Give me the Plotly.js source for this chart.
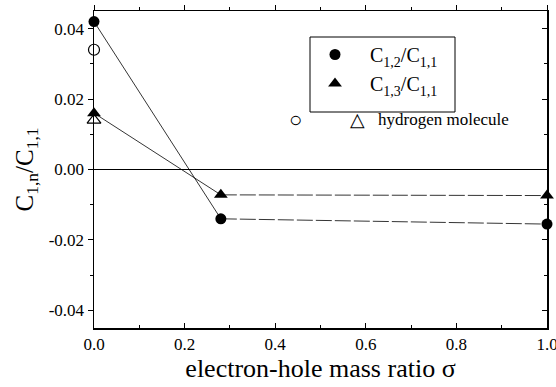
<!DOCTYPE html>
<html><head><meta charset="utf-8">
<script src="https://cdn.plot.ly/plotly-3.0.1.min.js"></script>
<style>body{margin:0;background:#fff}#c{width:556px;height:387px}</style>
</head><body><div id="c"></div>
<script>
const sigma = [0, 0.28, 1.0];
const c12 = [0.042, -0.014, -0.0155];
const c13 = [0.016, -0.0072, -0.0074];
const h2Sigma = [0];
const h2C12 = [0.034];
const h2C13 = [0.014];
const xTickVals = [0, 0.2, 0.4, 0.6, 0.8, 1.0];
const xTickText = ['0.0', '0.2', '0.4', '0.6', '0.8', '1.0'];
const yTickVals = [-0.04, -0.02, 0, 0.02, 0.04];
const yTickText = ['-0.04', '-0.02', '0.00', '0.02', '0.04'];

const lineStyle = {color: '#000', width: 0.8};
const dashStyle = {color: '#000', width: 0.8, dash: '16px,3px'};
const traces = [
  {x: sigma.slice(0, 2), y: c12.slice(0, 2), mode: 'lines', line: lineStyle, showlegend: false},
  {x: sigma.slice(1), y: c12.slice(1), mode: 'lines', line: dashStyle, showlegend: false},
  {x: sigma.slice(0, 2), y: c13.slice(0, 2), mode: 'lines', line: lineStyle, showlegend: false},
  {x: sigma.slice(1), y: c13.slice(1), mode: 'lines', line: dashStyle, showlegend: false},
  {x: sigma, y: c12, mode: 'markers', name: 'C<sub>1,2</sub>/C<sub>1,1</sub>',
   marker: {symbol: 'circle', size: 11, color: '#000'}, cliponaxis: false},
  {x: sigma, y: c13, mode: 'markers', name: 'C<sub>1,3</sub>/C<sub>1,1</sub>',
   marker: {symbol: 'triangle-up', size: 12, color: '#000'}, cliponaxis: false},
  {x: h2Sigma, y: h2C12, mode: 'markers', showlegend: false,
   marker: {symbol: 'circle-open', size: 11, color: '#000', line: {width: 1.2}}, cliponaxis: false},
  {x: h2Sigma, y: h2C13, mode: 'markers', showlegend: false,
   marker: {symbol: 'triangle-up-open', size: 12, color: '#000', line: {width: 1.2}}, cliponaxis: false}
];

const FAM = 'Liberation Serif';
const f = (s) => ({family: FAM, size: s, color: '#000'});
const layout = {
  width: 556, height: 387,
  margin: {l: 94, r: 9, t: 11, b: 59},
  paper_bgcolor: '#fff', plot_bgcolor: '#fff',
  font: f(17),
  xaxis: {
    range: [0, 1], tickvals: xTickVals, ticktext: xTickText, ticklabeloverflow: 'allow',
    ticks: 'inside', ticklen: 5, tickwidth: 1, tickcolor: '#000',
    minor: {dtick: 0.1, ticks: 'inside', ticklen: 3, tickcolor: '#000'},
    showline: true, linecolor: '#000', linewidth: 1.5, showgrid: false, zeroline: false,
    tickfont: f(17),
    title: {text: 'electron-hole mass ratio σ', font: f(26), standoff: 5}
  },
  xaxis2: {
    range: [0, 1], overlaying: 'x', side: 'top', tickvals: xTickVals, showticklabels: false,
    ticks: 'outside', ticklen: 5, tickcolor: '#000',
    minor: {dtick: 0.1, ticks: 'outside', ticklen: 3, tickcolor: '#000'},
    showline: true, linecolor: '#000', linewidth: 1.5, showgrid: false, zeroline: false
  },
  yaxis: {
    range: [-0.045, 0.045], tickvals: yTickVals, ticktext: yTickText,
    ticks: 'outside', ticklen: 5, tickwidth: 1, tickcolor: '#000',
    minor: {dtick: 0.01, ticks: 'outside', ticklen: 3, tickcolor: '#000'},
    showline: true, linecolor: '#000', linewidth: 1.5, showgrid: false,
    zeroline: true, zerolinecolor: '#000', zerolinewidth: 1,
    tickfont: f(17),
    title: {text: 'C<sub>1,n</sub>/C<sub>1,1</sub>', font: f(25), standoff: 8}
  },
  yaxis2: {
    range: [-0.045, 0.045], overlaying: 'y', side: 'right', tickvals: yTickVals, showticklabels: false,
    ticks: 'inside', ticklen: 5, tickcolor: '#000',
    minor: {dtick: 0.01, ticks: 'inside', ticklen: 3, tickcolor: '#000'},
    showline: true, linecolor: '#000', linewidth: 1.5, showgrid: false, zeroline: false
  },
  legend: {
    x: (300 - 94) / 453, y: (328 - 35) / 317, xanchor: 'left', yanchor: 'top',
    borderwidth: 0, bgcolor: 'rgba(0,0,0,0)',
    font: f(20), itemwidth: 60, tracegroupgap: 0
  },
  shapes: [{
    type: 'rect', xref: 'paper', yref: 'paper',
    x0: (310 - 94) / 453, x1: (455 - 94) / 453, y0: (328 - 112) / 317, y1: (328 - 37) / 317,
    line: {color: '#000', width: 1}, fillcolor: 'rgba(0,0,0,0)'
  }],
  annotations: [
    {xref: 'paper', yref: 'paper', x: (295 - 94) / 453, y: (328 - 120) / 317, xanchor: 'center', yanchor: 'middle',
     text: '○', showarrow: false, font: f(22)},
    {xref: 'paper', yref: 'paper', x: (357 - 94) / 453, y: (328 - 120) / 317, xanchor: 'center', yanchor: 'middle',
     text: '△', showarrow: false, font: f(19)},
    {xref: 'paper', yref: 'paper', x: (376 - 94) / 453, y: (328 - 119) / 317, xanchor: 'left', yanchor: 'middle',
     text: 'hydrogen molecule', showarrow: false, font: f(17)}
  ]
};
traces.push({x: [0], y: [0], xaxis: 'x2', yaxis: 'y2', mode: 'markers', marker: {opacity: 0}, showlegend: false, hoverinfo: 'skip'});
Plotly.newPlot('c', traces, layout, {displayModeBar: false, staticPlot: true});
</script>
</body></html>
